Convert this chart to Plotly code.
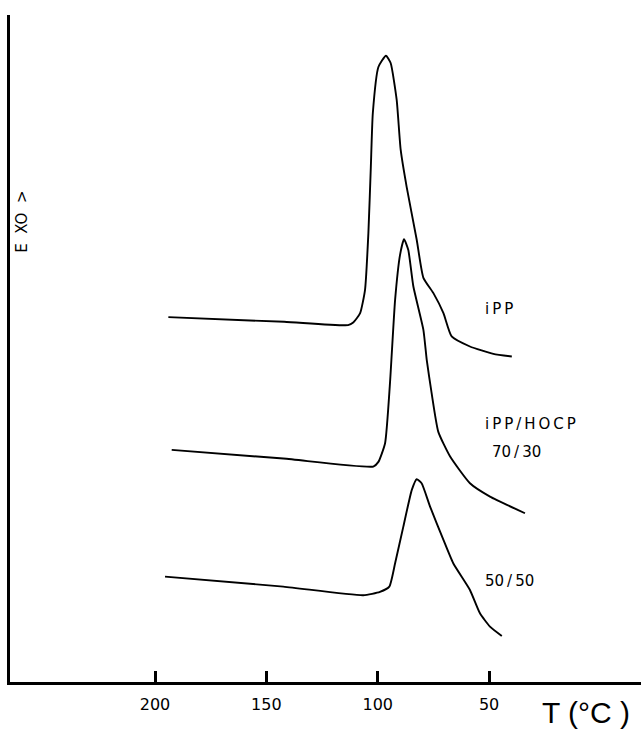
import plotly.graph_objects as go

# Temperature (°C) and exotherm signal (arbitrary units)
ipp_T = [194.0, 142.0, 113.3, 111.0, 107.9, 105.7, 104.2, 103.1, 102.2, 99.7, 96.3, 94.2,
         91.5, 89.7, 87.0, 82.5, 79.5, 75.0, 70.5, 66.8, 58.6, 48.1, 39.8]
ipp_y = [54.7, 54.0, 53.5, 53.9, 55.3, 58.8, 67.3, 77.2, 85.3, 92.2, 93.9, 92.8,
         87.3, 79.8, 74.2, 66.3, 60.6, 58.3, 55.3, 51.8, 50.3, 49.2, 48.8]

b7030_T = [192.5, 142.4, 102.0, 99.7, 96.7, 94.5, 92.2, 90.0, 88.2, 86.3, 84.0, 79.5,
           78.0, 75.8, 72.8, 67.5, 58.6, 49.6, 33.9]
b7030_y = [34.8, 33.5, 32.3, 33.0, 35.8, 44.8, 57.3, 64.0, 66.4, 64.8, 59.3, 52.8,
           48.3, 43.3, 37.5, 33.8, 29.8, 27.8, 25.3]

b5050_T = [195.5, 142.4, 106.5, 99.0, 94.8, 92.2, 88.5, 84.7, 82.5, 80.3, 76.5, 70.5,
           66.1, 58.6, 54.1, 49.6, 44.3]
b5050_y = [15.8, 14.3, 13.0, 13.5, 14.3, 17.8, 23.3, 28.8, 30.4, 29.8, 26.3, 21.3,
           17.8, 13.8, 10.3, 8.3, 6.9]

tick_vals = [200, 150, 100, 50]
tick_text = ["200", "150", "100", "50"]

fig = go.Figure()
for T, y in [(ipp_T, ipp_y), (b7030_T, b7030_y), (b5050_T, b5050_y)]:
    fig.add_trace(go.Scatter(x=T, y=y, mode="lines",
                             line=dict(color="black", width=1.9, shape="spline", smoothing=0.5),
                             showlegend=False, hoverinfo="skip"))

lab_font = dict(family="DejaVu Sans", size=15, color="black")
S = "\u2009"
fig.add_annotation(x=52.7, y=55.9, xref="x", yref="y", text="i" + S + "P" + S + "P",
                   showarrow=False, xanchor="left", yanchor="middle", font=lab_font)
fig.add_annotation(x=52.7, y=38.7, xref="x", yref="y",
                   text="i" + S + "P" + S + "P" + S + "/" + S + "H" + S + "O" + S + "C" + S + "P",
                   showarrow=False, xanchor="left", yanchor="middle", font=lab_font)
fig.add_annotation(x=49.6, y=34.5, xref="x", yref="y", text="70" + S + "/" + S + "30",
                   showarrow=False, xanchor="left", yanchor="middle", font=lab_font)
fig.add_annotation(x=52.7, y=15.1, xref="x", yref="y", text="50" + S + "/" + S + "50",
                   showarrow=False, xanchor="left", yanchor="middle", font=lab_font)
fig.add_annotation(x=0.019, y=0.69, xref="paper", yref="paper", text="E  XO  >", textangle=-90,
                   showarrow=False, xanchor="center", yanchor="middle",
                   font=dict(family="DejaVu Sans", size=15, color="black"))
fig.add_annotation(x=0.913, y=-0.046, xref="paper", yref="paper", text="T (°C )",
                   showarrow=False, xanchor="center", yanchor="middle",
                   font=dict(family="Liberation Sans", size=30, color="black"))

fig.update_layout(
    width=641, height=731,
    margin=dict(l=10, r=0, t=15, b=49),
    paper_bgcolor="white", plot_bgcolor="white",
    xaxis=dict(range=[265.1, -18.2], tickvals=tick_vals, ticktext=tick_text,
               ticks="inside", ticklen=11, tickwidth=3, tickcolor="black",
               showline=True, linecolor="black", linewidth=2.5,
               showgrid=False, zeroline=False, ticklabelstandoff=6,
               tickfont=dict(family="DejaVu Sans", size=16, color="black")),
    yaxis=dict(range=[0, 100], showticklabels=False, ticks="", showline=True,
               linecolor="black", linewidth=3, showgrid=False, zeroline=False),
)

fig.write_html("out.html")
